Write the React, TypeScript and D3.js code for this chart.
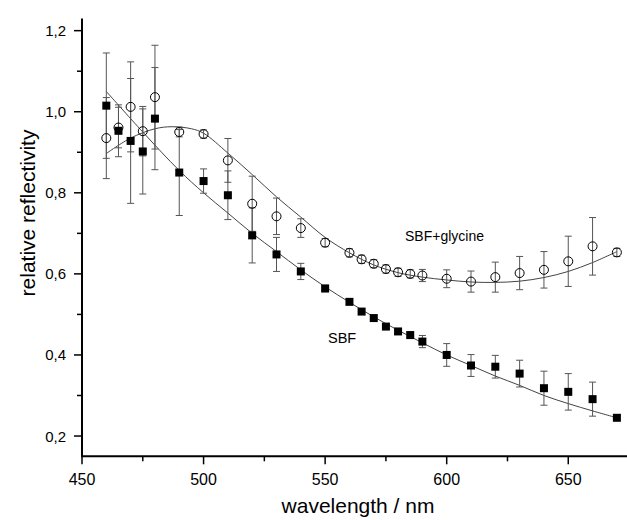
import React from "react";
import * as d3 from "d3";

const wavelengths = [460,465,470,475,480,490,500,510,520,530,540,550,560,565,570,575,580,585,590,600,610,620,630,640,650,660,670];

const sbfValues = [1.015,0.953,0.928,0.902,0.983,0.850,0.829,0.794,0.695,0.648,0.606,0.564,0.531,0.507,0.491,0.470,0.458,0.449,0.433,0.400,0.374,0.371,0.354,0.318,0.309,0.291,0.245];
const sbfErrors = [0.13,0.064,0.154,0.105,0.126,0.106,0.03,0.06,0.068,0.042,0.02,0.008,0.006,0.006,0.006,0.006,0.006,0.008,0.015,0.028,0.027,0.028,0.033,0.042,0.045,0.042,0.005];

const glyValues = [0.935,0.961,1.012,0.952,1.036,0.950,0.945,0.880,0.773,0.742,0.713,0.677,0.652,0.636,0.625,0.612,0.604,0.600,0.596,0.588,0.581,0.592,0.602,0.610,0.631,0.668,0.653];
const glyErrors = [0.10,0.05,0.111,0.061,0.128,0.012,0.01,0.054,0.068,0.045,0.023,0.01,0.01,0.01,0.01,0.01,0.01,0.01,0.015,0.022,0.026,0.037,0.041,0.045,0.062,0.071,0.01];

const sbfFitX = [460,475,490,500,510,520,530,540,550,560,570,580,590,600,610,620,630,640,650,660,670];
const sbfFitY = [1.05,0.95,0.855,0.80,0.75,0.70,0.655,0.61,0.568,0.53,0.494,0.461,0.43,0.40,0.374,0.348,0.325,0.30,0.28,0.262,0.245];

const glyFitX = [460,470,480,487,495,500,510,520,530,540,550,560,570,580,590,600,610,620,630,640,650,660,670];
const glyFitY = [0.897,0.935,0.958,0.963,0.958,0.947,0.898,0.845,0.79,0.74,0.69,0.652,0.622,0.603,0.592,0.585,0.58,0.579,0.582,0.591,0.606,0.628,0.655];

const xMajorTicks = [450,500,550,600,650];
const xMinorTicks = [475,525,575,625,675];
const yMajorTicks = [0.2,0.4,0.6,0.8,1.0,1.2];
const yMinorTicks = [0.3,0.5,0.7,0.9,1.1];

const W = 627, H = 520;
const FONT = "'Liberation Sans', Arial, sans-serif";

export default function App() {
  const x = d3.scaleLinear().domain([450, 680]).range([82, 641.2]);
  const y = d3.scaleLinear().domain([0.15, 1.23]).range([456.3, 18.5]);
  const x0 = x(450), y0 = y(0.15);
  const line = d3.line<[number, number]>().x(d => x(d[0])).y(d => y(d[1])).curve(d3.curveCatmullRom);
  const sbfFit = sbfFitX.map((v, i) => [v, sbfFitY[i]] as [number, number]);
  const glyFit = glyFitX.map((v, i) => [v, glyFitY[i]] as [number, number]);
  const fmt = (v: number) => v.toFixed(1).replace(".", ",");
  const cap = 3.5;

  const errBars = (vals: number[], errs: number[], key: string) =>
    wavelengths.map((w, i) => {
      const cx = x(w);
      const top = y(vals[i] + errs[i]);
      const bot = y(vals[i] - errs[i]);
      return (
        <g key={key + i} stroke="#555" strokeWidth={1}>
          <line x1={cx} x2={cx} y1={top} y2={bot} />
          <line x1={cx - cap} x2={cx + cap} y1={top} y2={top} />
          <line x1={cx - cap} x2={cx + cap} y1={bot} y2={bot} />
        </g>
      );
    });

  return (
    <div style={{ position: "absolute", left: 0, top: 0 }}>
      <svg width={W} height={H} style={{ display: "block", background: "#fff" }}>
        <rect x={0} y={0} width={W} height={H} fill="#fff" />
        {/* fit curves */}
        <path d={line(sbfFit) || ""} fill="none" stroke="#444" strokeWidth={1} />
        <path d={line(glyFit) || ""} fill="none" stroke="#444" strokeWidth={1} />
        {/* error bars */}
        {errBars(sbfValues, sbfErrors, "se")}
        {errBars(glyValues, glyErrors, "ge")}
        {/* markers */}
        {wavelengths.map((w, i) => (
          <rect key={"s" + i} x={x(w) - 4} y={y(sbfValues[i]) - 4} width={8} height={8} fill="#000" />
        ))}
        {wavelengths.map((w, i) => (
          <circle key={"c" + i} cx={x(w)} cy={y(glyValues[i])} r={4.5} fill="none" stroke="#000" strokeWidth={1} />
        ))}
        {/* axes */}
        <line x1={x0} x2={W} y1={y0} y2={y0} stroke="#000" strokeWidth={2} />
        <line x1={x0} x2={x0} y1={y0 + 1} y2={y(1.23)} stroke="#000" strokeWidth={2} />
        {xMajorTicks.map(t => (
          <g key={"xm" + t}>
            <line x1={x(t)} x2={x(t)} y1={y0} y2={y0 + 8} stroke="#000" strokeWidth={1.5} />
            <text x={x(t)} y={485} textAnchor="middle" fontFamily={FONT} fontSize={16} fill="#000">{t}</text>
          </g>
        ))}
        {xMinorTicks.map(t => (
          <line key={"xn" + t} x1={x(t)} x2={x(t)} y1={y0} y2={y0 + 5} stroke="#000" strokeWidth={1.5} />
        ))}
        {yMajorTicks.map(t => (
          <g key={"ym" + t}>
            <line x1={x0 - 8} x2={x0} y1={y(t)} y2={y(t)} stroke="#000" strokeWidth={1.5} />
            <text x={66} y={y(t) + 5.5} textAnchor="end" fontFamily={FONT} fontSize={15} fill="#000">{fmt(t)}</text>
          </g>
        ))}
        {yMinorTicks.map(t => (
          <line key={"yn" + t} x1={x0 - 5} x2={x0} y1={y(t)} y2={y(t)} stroke="#000" strokeWidth={1.5} />
        ))}
        {/* labels */}
        <text x={358} y={513} textAnchor="middle" fontFamily={FONT} fontSize={21} fill="#000">wavelength / nm</text>
        <text transform={`translate(35, 213) rotate(-90)`} textAnchor="middle" fontFamily={FONT} fontSize={21} fill="#000">relative reflectivity</text>
        <text x={405} y={241} fontFamily={FONT} fontSize={14} fill="#000">SBF+glycine</text>
        <text x={328} y={343} fontFamily={FONT} fontSize={14.5} fill="#000">SBF</text>
      </svg>
    </div>
  );
}
